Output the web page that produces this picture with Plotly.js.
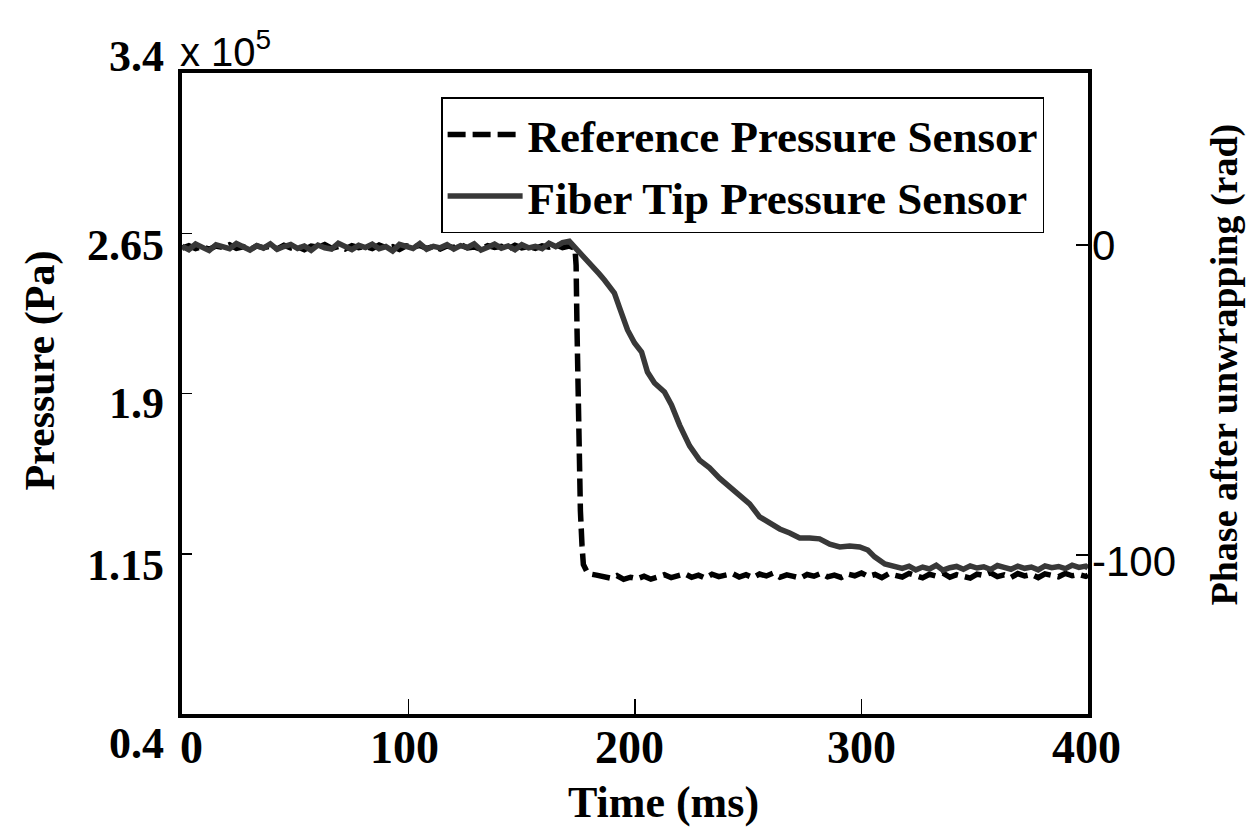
<!DOCTYPE html>
<html><head><meta charset="utf-8">
<script src="https://cdn.plot.ly/plotly-3.0.1.min.js"></script>
<style>html,body{margin:0;padding:0;background:#fff}#chart{width:1249px;height:827px}</style>
</head><body><div id="chart"></div>
<script>
// ---- tick definitions ----
const xTickVals = [0, 100, 200, 300, 400];
const xTickText = ['0', '100', '200', '300', '400'];
const yTickVals = [3.4, 2.65, 1.9, 1.15, 0.4];
const yTickText = ['3.4', '2.65', '1.9', '1.15', '0.4'];
const y2TickVals = [0, -100];
const y2TickText = ['0', '-100'];

// ---- Reference pressure sensor (x 10^5 Pa) ----
const topTime = [0,3,6,9,12,15,18,21,24,27,
  30,33,36,39,42,45,48,51,54,57,
  60,63,66,69,72,75,78,81,84,87,
  90,93,96,99,102,105,108,111,114,117,
  120,123,126,129,132,135,138,141,144,147,
  150,153,156,159,162,165,168,171];
const refTopP = [2.580,2.592,2.578,2.588,2.575,2.590,2.583,2.596,2.579,2.587,
  2.574,2.591,2.582,2.589,2.577,2.594,2.581,2.586,2.573,2.590,
  2.584,2.597,2.580,2.588,2.576,2.592,2.583,2.589,2.578,2.595,
  2.582,2.587,2.574,2.591,2.585,2.593,2.579,2.588,2.576,2.590,
  2.583,2.597,2.581,2.586,2.575,2.592,2.584,2.589,2.577,2.594,
  2.582,2.588,2.579,2.591,2.585,2.596,2.583,2.590];
const refDropTime = [173.5,174.0,174.4,174.8,175.3,175.9,176.6,177.2,178.6,180.4];
const refDropP = [2.580,2.50,2.20,1.87,1.59,1.35,1.19,1.10,1.07,1.055];
const refBottomTime = [183,186,189,192,195,198,201,204,207,210,
  213,216,219,222,225,228,231,234,237,240,
  243,246,249,252,255,258,261,264,267,270,
  273,276,279,282,285,288,291,294,297,300,
  303,306,309,312,315,318,321,324,327,330,
  333,336,339,342,345,348,351,354,357,360,
  363,366,369,372,375,378,381,384,387,390,
  393,396,399,400];
const refBottomP = [1.050,1.042,1.036,1.048,1.030,1.040,1.033,1.045,1.031,1.041,
  1.052,1.038,1.047,1.056,1.040,1.050,1.036,1.054,1.043,1.049,
  1.057,1.041,1.052,1.038,1.055,1.046,1.059,1.040,1.051,1.044,
  1.036,1.053,1.045,1.058,1.042,1.050,1.039,1.055,1.047,1.060,
  1.044,1.053,1.038,1.056,1.047,1.041,1.058,1.049,1.037,1.054,
  1.045,1.059,1.040,1.052,1.046,1.036,1.055,1.048,1.061,1.043,
  1.051,1.039,1.057,1.046,1.053,1.038,1.056,1.049,1.042,1.058,
  1.047,1.053,1.044,1.050];

// ---- Fiber tip pressure sensor (phase after unwrapping, rad) ----
const fibTopPhase = [-0.4,-1.5,0.3,-0.9,-1.8,0.1,-0.6,-1.2,0.5,-0.8,
  -1.6,-0.2,-1.0,0.4,-1.4,-0.5,0.2,-1.1,-0.3,-1.7,
  0.0,-0.9,-1.3,0.6,-0.7,-1.5,-0.1,-0.8,0.3,-1.2,
  -0.5,-1.9,0.2,-0.6,-1.1,0.5,-1.4,-0.4,-0.9,0.1,
  -1.3,-0.2,-0.8,0.4,-1.6,-0.7,0.3,-1.0,-0.3,-1.5,
  0.1,-0.9,-0.4,-1.2,0.6,-0.5,0.8,1.2];
const fibDropTime = [173.3,175.5,177.7,180.0,182.1,184.3,186.5,188.7,190.9,193.2,
  196.7,199.8,202.9,205.5,208.6,213.0,216.1,219.7,224.1,228.5,
  232.9,237.3,241.8,246.2,250.6,255.0,259.4,263.9,268.3,272.7,
  277.1,281.5,286.0,290.4,294.8,299.2,302.8,305.8,310.3,314.7];
const fibDropPhase = [-0.6,-2.3,-4.2,-5.5,-7.4,-9.4,-11.3,-13.2,-15.5,-20.3,
  -27.4,-31.6,-34.5,-41.0,-44.5,-47.4,-51.6,-58.1,-64.8,-69.4,
  -71.9,-75.2,-78.1,-81.0,-83.5,-87.7,-89.7,-91.6,-92.9,-94.5,
  -94.5,-94.8,-96.5,-97.4,-97.1,-97.4,-98.4,-100.6,-102.9,-103.9];
const fibBottomTime = [318,321,324,327,330,333,336,339,342,345,
  348,351,354,357,360,363,366,369,372,375,
  378,381,384,387,390,393,396,399,400];
const fibBottomPhase = [-104.3,-103.6,-104.8,-103.9,-104.5,-103.3,-104.9,-104.1,-103.7,-104.6,
  -103.5,-104.2,-103.8,-104.7,-103.4,-104.0,-104.6,-103.6,-104.3,-103.9,
  -104.8,-103.5,-104.1,-103.7,-104.4,-103.3,-104.0,-103.6,-104.2];

const refName = 'Reference Pressure Sensor';
const fibName = 'Fiber Tip Pressure Sensor';

// ---- label offsets (layout only) ----
const yLabelShift = [17, -12, -10, -12, -29];
const xLabelShift = [9, -4, -6, 0, -2];
const y2LabelShift = [0, -7];

const serif = 'Liberation Serif, Times New Roman, serif';
const sans = 'Liberation Sans, Arial, sans-serif';

const fiberTrace = {
  x: topTime.concat(fibDropTime, fibBottomTime),
  y: fibTopPhase.concat(fibDropPhase, fibBottomPhase),
  yaxis: 'y2', type: 'scatter', mode: 'lines', name: fibName, legendrank: 2,
  line: {color: '#383838', width: 5.5}
};
const refTrace = {
  x: topTime.concat(refDropTime, refBottomTime),
  y: refTopP.concat(refDropP, refBottomP),
  type: 'scatter', mode: 'lines', name: refName, legendrank: 1,
  line: {color: '#000000', width: 5.5, dash: '18px,7px'}
};

const annotations = [];
xTickVals.forEach((v, i) => annotations.push({
  x: v, xref: 'x', y: 0, yref: 'paper', text: xTickText[i], showarrow: false,
  xanchor: 'center', yanchor: 'top', yshift: -6, xshift: xLabelShift[i],
  font: {family: serif, size: 46, color: '#000', weight: 'bold'}
}));
yTickVals.forEach((v, i) => annotations.push({
  x: 0, xref: 'paper', y: v, yref: 'y', text: yTickText[i], showarrow: false,
  xanchor: 'right', yanchor: 'middle', xshift: -16, yshift: yLabelShift[i],
  font: {family: serif, size: 44, color: '#000', weight: 'bold'}
}));
y2TickVals.forEach((v, i) => annotations.push({
  x: 1, xref: 'paper', y: v, yref: 'y2', text: y2TickText[i], showarrow: false,
  xanchor: 'left', yanchor: 'middle', xshift: 2, yshift: y2LabelShift[i],
  font: {family: sans, size: 42, color: '#000'}
}));
annotations.push({
  x: 0, xref: 'paper', y: 1, yref: 'paper', text: 'x 10<sup>5</sup>', showarrow: false,
  xanchor: 'left', yanchor: 'middle', xshift: -4, yshift: 24,
  font: {family: sans, size: 40, color: '#000'}
});
annotations.push({
  x: 0.5, xref: 'paper', y: 0, yref: 'paper', text: 'Time (ms)', showarrow: false,
  xanchor: 'center', yanchor: 'middle', xshift: 28, yshift: -88,
  font: {family: serif, size: 44, color: '#000', weight: 'bold'}
});
annotations.push({
  x: 0, xref: 'paper', y: 0.5, yref: 'paper', text: 'Pressure (Pa)', showarrow: false,
  textangle: -90, xanchor: 'center', yanchor: 'middle', xshift: -142, yshift: 23,
  font: {family: serif, size: 42, color: '#000', weight: 'bold'}
});
annotations.push({
  x: 1, xref: 'paper', y: 0.5, yref: 'paper', text: 'Phase after unwrapping (rad)', showarrow: false,
  textangle: -90, xanchor: 'center', yanchor: 'middle', xshift: 136, yshift: 29,
  font: {family: serif, size: 38, color: '#000', weight: 'bold'}
});

const axisCommon = {showgrid: false, zeroline: false, showline: true, linecolor: '#000',
  linewidth: 4, ticks: 'inside', tickcolor: '#000', tickwidth: 1.5, showticklabels: false};

const layout = {
  width: 1249, height: 827,
  margin: {l: 182, r: 161, t: 73, b: 113, pad: 0},
  paper_bgcolor: '#ffffff', plot_bgcolor: '#ffffff',
  showlegend: true,
  legend: {x: 0.286, y: 0.962, xanchor: 'left', yanchor: 'top', bgcolor: '#ffffff',
    bordercolor: '#000', borderwidth: 1.5, itemwidth: 75, tracegroupgap: 0,
    font: {family: serif, size: 45, color: '#000', weight: 'bold'}},
  xaxis: Object.assign({}, axisCommon, {range: [0, 400], tickvals: xTickVals, ticklen: 15, mirror: true}),
  yaxis: Object.assign({}, axisCommon, {range: [0.4, 3.4], tickvals: yTickVals, ticklen: 10}),
  yaxis2: Object.assign({}, axisCommon, {range: [-151.3, 55.5], tickvals: y2TickVals, ticklen: 12,
    overlaying: 'y', side: 'right'}),
  annotations: annotations
};

Plotly.newPlot('chart', [fiberTrace, refTrace], layout, {displayModeBar: false, staticPlot: true});
</script>
</body></html>
